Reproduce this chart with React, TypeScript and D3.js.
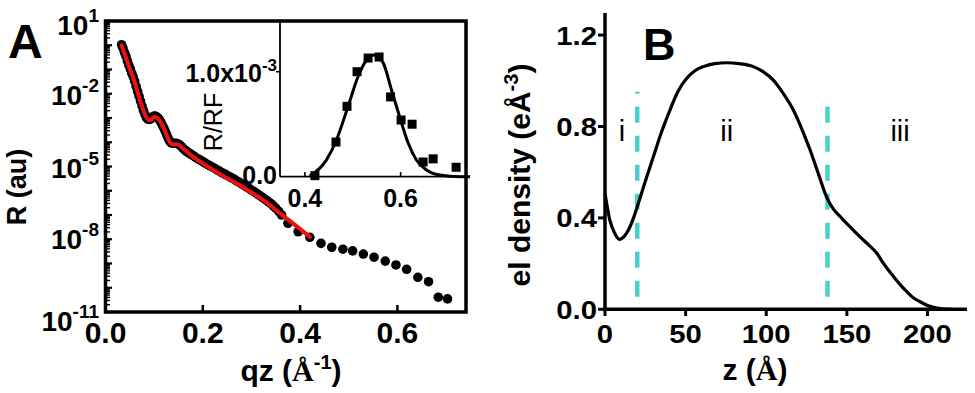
import React from "react";
import * as d3 from "d3";

// ---------- Panel A: reflectivity ----------
const reflQ = [
  0.033, 0.036, 0.039, 0.042, 0.045, 0.048, 0.051, 0.054, 0.057, 0.06, 0.063, 0.066, 0.069, 0.072, 0.075,
  0.078, 0.081, 0.084, 0.087, 0.09, 0.093, 0.096, 0.099, 0.102, 0.105, 0.108, 0.111, 0.114, 0.117, 0.12,
  0.123, 0.126, 0.129, 0.132, 0.135, 0.138, 0.141, 0.144, 0.147, 0.15, 0.153, 0.156, 0.159, 0.162, 0.165,
  0.168, 0.172, 0.176, 0.18, 0.185, 0.19, 0.195, 0.2, 0.205, 0.21, 0.215, 0.22, 0.225, 0.23, 0.235, 0.24,
  0.245, 0.25, 0.255, 0.26, 0.265, 0.27, 0.275, 0.28, 0.285, 0.29, 0.295, 0.3, 0.305, 0.31, 0.315, 0.32,
  0.325, 0.33, 0.335, 0.34, 0.345, 0.35, 0.356, 0.362,
  0.375, 0.396, 0.42, 0.443, 0.465, 0.488, 0.508, 0.53, 0.552, 0.575, 0.597, 0.619, 0.642, 0.664, 0.684, 0.703,
];
const reflLogR = [
  0.02, -0.12, -0.3, -0.45, -0.65, -0.82, -0.98, -1.15, -1.3, -1.48, -1.7, -1.9, -2.1, -2.3, -2.5,
  -2.7, -2.85, -2.98, -3.05, -3.06, -3.04, -2.97, -2.93, -2.92, -2.95, -3.0, -3.08, -3.18, -3.3, -3.42,
  -3.56, -3.7, -3.85, -3.95, -4.02, -4.04, -4.05, -4.04, -4.05, -4.08, -4.12, -4.18, -4.24, -4.3, -4.35,
  -4.4, -4.45, -4.5, -4.55, -4.62, -4.68, -4.74, -4.8, -4.86, -4.92, -4.97, -5.03, -5.08, -5.15, -5.2, -5.26,
  -5.31, -5.37, -5.42, -5.48, -5.53, -5.6, -5.65, -5.72, -5.78, -5.84, -5.9, -5.97, -6.03, -6.1, -6.17, -6.24,
  -6.31, -6.38, -6.46, -6.53, -6.62, -6.72, -6.85, -7.0,
  -7.34, -7.69, -7.92, -8.17, -8.33, -8.41, -8.48, -8.61, -8.74, -8.9, -9.06, -9.24, -9.57, -9.75, -10.39, -10.46,
];
const fitQ = [
  0.033, 0.04, 0.05, 0.06, 0.068, 0.075, 0.082, 0.088, 0.093, 0.098, 0.103, 0.108, 0.113, 0.12, 0.127,
  0.134, 0.14, 0.147, 0.153, 0.16, 0.167, 0.175, 0.19, 0.21, 0.24, 0.27, 0.3, 0.33, 0.355, 0.39, 0.42,
];
const fitLogR = [
  0.0, -0.4, -0.97, -1.52, -2.07, -2.52, -2.9, -3.07, -3.08, -2.99, -2.96, -3.03, -3.15, -3.43, -3.78,
  -4.04, -4.09, -4.08, -4.14, -4.27, -4.38, -4.52, -4.74, -5.0, -5.37, -5.7, -6.07, -6.47, -6.87, -7.42, -7.9,
];
const xTicksA = [0, 0.2, 0.4, 0.6];
const yDecadesA = [1, -2, -5, -8, -11];

// inset (R/RF, units of 1e-3)
const insetQ = [0.421, 0.465, 0.488, 0.509, 0.532, 0.555, 0.579, 0.601, 0.624, 0.647, 0.668, 0.716];
const insetV = [0.01, 0.33, 0.67, 1.0, 1.13, 1.14, 0.76, 0.54, 0.5, 0.14, 0.17, 0.09];
const insetFitQ = [0.41, 0.445, 0.466, 0.49, 0.511, 0.529, 0.546, 0.564, 0.581, 0.599, 0.616, 0.633, 0.654, 0.682, 0.724, 0.745];
const insetFitV = [0.007, 0.159, 0.35, 0.667, 0.952, 1.111, 1.159, 1.08, 0.826, 0.556, 0.318, 0.159, 0.064, 0.016, 0.0, 0.0];
const insetXTicks = [0.4, 0.6];

// ---------- Panel B: electron density ----------
const densityZ = [
  0, 3, 6, 9, 13.4, 17.6, 20, 25, 30, 35, 40.3, 45, 50.7, 56, 61, 68, 75.5, 83, 92, 98, 104.4, 110,
  116.8, 122, 127.2, 132, 137.5, 142, 146, 150, 154, 158, 162.4, 168.6, 172.7, 178.9, 184, 187.2, 191, 195.4,
  200, 203.7, 208, 215,
];
const densityV = [
  0.508, 0.39, 0.333, 0.306, 0.333, 0.398, 0.449, 0.56, 0.668, 0.775, 0.872, 0.95, 1.011, 1.045, 1.062, 1.075,
  1.079, 1.075, 1.062, 1.04, 1.003, 0.95, 0.872, 0.79, 0.697, 0.6, 0.49, 0.435, 0.405, 0.375, 0.347, 0.318,
  0.289, 0.245, 0.201, 0.143, 0.1, 0.077, 0.052, 0.033, 0.017, 0.009, 0.003, 0.0,
];
const regionBoundZ = [20, 138];
const regionNames = ["i", "ii", "iii"];
const regionNameZ = [10.5, 75.5, 183];
const xTicksB = [0, 50, 100, 150, 200];
const yTicksB = [0.0, 0.4, 0.8, 1.2];

const SANS = "'Liberation Sans', Arial, Helvetica, sans-serif";
const SERIF = "'Liberation Serif', 'Times New Roman', serif";
const CYAN = "#48d1cc";

export default function App() {
  // scales
  const xA = d3.scaleLinear().domain([0, 0.741]).range([105.5, 466]);
  const yA = d3.scaleLog().domain([1e-11, 1e1]).range([312, 21]);
  const xI = d3.scaleLinear().domain([0.348, 0.745]).range([280, 470]);
  const yI = d3.scaleLinear().domain([0, 1.483]).range([176.7, 21]);
  const xB = d3.scaleLinear().domain([0, 224.5]).range([605, 967]);
  const yB = d3.scaleLinear().domain([0, 1.28]).range([309.3, 16.8]);

  const fitLine = d3
    .line<number>()
    .x((_, i) => xA(fitQ[i]))
    .y((_, i) => yA(Math.pow(10, fitLogR[i])))
    .curve(d3.curveMonotoneX)(fitQ);

  const insetLine = d3
    .line<number>()
    .x((_, i) => xI(insetFitQ[i]))
    .y((_, i) => yI(insetFitV[i]))
    .curve(d3.curveMonotoneX)(insetFitQ);

  const densLine = d3
    .line<number>()
    .x((_, i) => xB(densityZ[i]))
    .y((_, i) => yB(densityV[i]))
    .curve(d3.curveMonotoneX)(densityZ);

  // minor log ticks
  const minorA: number[] = [];
  for (let d = -11; d < 1; d++) for (let m = 2; m <= 9; m++) minorA.push(m * Math.pow(10, d));
  const labelDy = [4, 1, 1, 0, 9];

  const bText = (x: number, y: number, s: string, anchor: "start" | "middle" | "end", key: string) => (
    <text
      key={key}
      transform={`translate(${x},${y}) scale(1.17,1)`}
      textAnchor={anchor}
      fontFamily={SANS}
      fontWeight="bold"
      fontSize={25}
    >
      {s}
    </text>
  );

  return (
    <svg
      width={975}
      height={393}
      style={{ position: "absolute", left: 0, top: 0, background: "#fff" }}
      fontFamily={SANS}
    >
      <rect x={0} y={0} width={975} height={393} fill="#fff" />
      {/* ===== Panel A ===== */}
      <text x={8} y={58} fontSize={48} fontWeight="bold">A</text>

      {/* data points */}
      <g fill="#000">
        {reflQ.map((q, i) => (
          <circle key={i} cx={xA(q)} cy={yA(Math.pow(10, reflLogR[i]))} r={4.8} />
        ))}
      </g>
      <path d={fitLine || ""} fill="none" stroke="#ee1111" strokeWidth={4} strokeLinejoin="round" strokeLinecap="round" />

      {/* frame */}
      <rect x={105.5} y={21} width={360.5} height={291} fill="none" stroke="#000" strokeWidth={3.5} />
      {/* y ticks (inward) */}
      <g stroke="#000">
        {yDecadesA.concat([0, -1, -3, -4, -6, -7, -9, -10]).map((d) => (
          <line key={"M" + d} x1={105.5} x2={112} y1={yA(Math.pow(10, d))} y2={yA(Math.pow(10, d))} strokeWidth={2.2} />
        ))}
        {minorA.map((v, i) => (
          <line key={"m" + i} x1={105.5} x2={110} y1={yA(v)} y2={yA(v)} strokeWidth={1.4} />
        ))}
        {xTicksA.map((t) => (
          <line key={"x" + t} x1={xA(t)} x2={xA(t)} y1={312} y2={305} strokeWidth={2.5} />
        ))}
      </g>
      {/* x tick labels */}
      {xTicksA.map((t) => (
        <text key={"xl" + t} x={xA(t)} y={343} textAnchor="middle" fontSize={30} fontWeight="bold">
          {t.toFixed(1)}
        </text>
      ))}
      {/* y tick labels */}
      {yDecadesA.map((d, i) => (
        <text key={"yl" + d} x={99} y={yA(Math.pow(10, d)) + labelDy[i] + 10} textAnchor="end" fontSize={28} fontWeight="bold">
          10
          <tspan fontSize={19} dy={-13}>{String(d)}</tspan>
        </text>
      ))}
      <text transform="translate(26,187) rotate(-90)" textAnchor="middle" fontSize={27} fontWeight="bold">
        R (au)
      </text>
      <text x={291} y={381} textAnchor="middle" fontSize={30} fontWeight="bold">
        qz (<tspan fontFamily={SERIF}>Å</tspan>
        <tspan fontSize={20} dy={-12}>-1</tspan>
        <tspan dy={12}>)</tspan>
      </text>

      {/* ===== Inset ===== */}
      <line x1={280} x2={280} y1={21} y2={176.7} stroke="#000" strokeWidth={1.8} />
      <line x1={280} x2={470} y1={176.7} y2={176.7} stroke="#000" strokeWidth={1.8} />
      {insetXTicks.map((t) => (
        <line key={"it" + t} x1={xI(t)} x2={xI(t)} y1={176.7} y2={172} stroke="#000" strokeWidth={1.6} />
      ))}
      <line x1={276} x2={280} y1={yI(1)} y2={yI(1)} stroke="#000" strokeWidth={1.6} />
      <path d={insetLine || ""} fill="none" stroke="#000" strokeWidth={3} strokeLinejoin="round" />
      <g fill="#000">
        {insetQ.map((q, i) => (
          <rect key={i} x={xI(q) - 4.5} y={yI(insetV[i]) - 4.5} width={9} height={9} />
        ))}
      </g>
      {insetXTicks.map((t) => (
        <text key={"itl" + t} x={xI(t)} y={207} textAnchor="middle" fontSize={25} fontWeight="bold">
          {t.toFixed(1)}
        </text>
      ))}
      <text x={277} y={183.5} textAnchor="end" fontSize={25} fontWeight="bold">0.0</text>
      <text x={277} y={81.7} textAnchor="end" fontSize={25} fontWeight="bold">
        1.0x10<tspan fontSize={17} dy={-11}>-3</tspan>
      </text>
      <text transform="translate(222,122) rotate(-90)" textAnchor="middle" fontSize={25}>
        R/RF
      </text>

      {/* ===== Panel B ===== */}
      <text x={643} y={60} fontSize={45} fontWeight="bold">B</text>
      {regionBoundZ.map((z, i) => (
        <line
          key={"rb" + z}
          x1={xB(z)}
          x2={xB(z)}
          y1={296.7}
          y2={i === 0 ? 91.7 : 94}
          stroke={CYAN}
          strokeWidth={4.5}
          strokeDasharray="16 13"
        />
      ))}
      <path d={densLine || ""} fill="none" stroke="#000" strokeWidth={3.2} strokeLinejoin="round" />
      {regionNames.map((s, i) => (
        <text key={s} x={xB(regionNameZ[i])} y={141} textAnchor="middle" fontSize={29}>
          {s}
        </text>
      ))}
      {/* axes */}
      <line x1={xB(0)} x2={xB(0)} y1={13} y2={311} stroke="#000" strokeWidth={3.5} />
      <line x1={xB(0) - 1.7} x2={967} y1={309.3} y2={309.3} stroke="#000" strokeWidth={3.5} />
      {yTicksB.map((t) => (
        <line key={"byt" + t} x1={xB(0) - 7} x2={xB(0)} y1={yB(t)} y2={yB(t)} stroke="#000" strokeWidth={3} />
      ))}
      {xTicksB.map((t) => (
        <line key={"bxt" + t} x1={xB(t)} x2={xB(t)} y1={309.3} y2={316} stroke="#000" strokeWidth={3} />
      ))}
      {yTicksB.map((t) => bText(597, yB(t) + 9.5, t.toFixed(1), "end", "byl" + t))}
      {xTicksB.map((t) => bText(xB(t), 343, String(t), "middle", "bxl" + t))}
      <text x={755} y={380} textAnchor="middle" fontSize={30} fontWeight="bold">
        z (<tspan fontFamily={SERIF}>Å</tspan>)
      </text>
      <text transform="translate(530,175) rotate(-90)" textAnchor="middle" fontSize={30} fontWeight="bold">
        el density (eÅ<tspan fontSize={20} dy={-12}>-3</tspan>
        <tspan dy={12}>)</tspan>
      </text>
    </svg>
  );
}
